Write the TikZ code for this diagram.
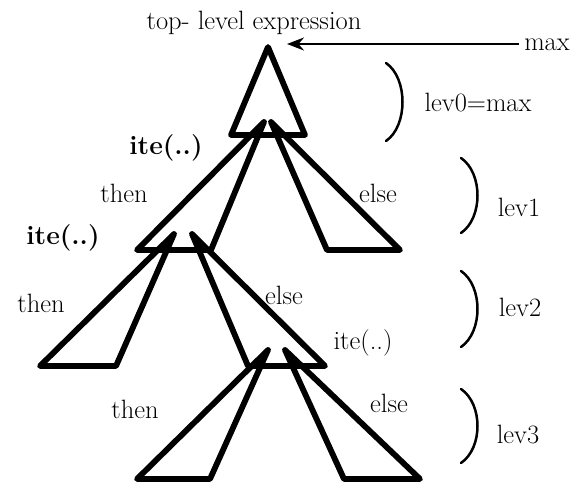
\documentclass[tikz,border=0pt]{standalone}
\usepackage{fontspec}
\usetikzlibrary{arrows.meta}
\begin{document}
\begin{tikzpicture}[x=1pt,y=-1pt,
  tri/.style={line width=5.8pt,line join=round},
  lbl/.style={font=\fontsize{26.5}{30}\selectfont,inner sep=0pt,anchor=base},
  bld/.style={font=\fontsize{26.5}{30}\selectfont\bfseries,inner sep=0pt,anchor=base},
  brk/.style={line width=2.5pt,line cap=round},
  arr/.style={line width=2.5pt,-{Stealth[length=17pt,width=13pt]}}]
\useasboundingbox (0,0) rectangle (574,484);
% triangle corner points
\coordinate (t0a) at (268,47);  \coordinate (t0l) at (231,135); \coordinate (t0r) at (305,135);
\coordinate (t1a) at (264,122); \coordinate (t1l) at (137,250); \coordinate (t1r) at (211,250);
\coordinate (e1a) at (271,122); \coordinate (e1l) at (327,250); \coordinate (e1r) at (400,250);
\coordinate (t2a) at (174,234); \coordinate (t2l) at (40,366);  \coordinate (t2r) at (116,366);
\coordinate (e2a) at (192,234); \coordinate (e2l) at (248,366); \coordinate (e2r) at (325,366);
\coordinate (t3a) at (268,350); \coordinate (t3l) at (137,479); \coordinate (t3r) at (210,479);
\coordinate (e3a) at (285,350); \coordinate (e3l) at (344,479); \coordinate (e3r) at (420,479);
\foreach \n in {t0,t1,e1,t2,e2,t3,e3}{\draw[tri] (\n a) -- (\n l) -- (\n r) -- cycle;}
% texts
\node[lbl] (top) at (254,30) {top- level expression};
\node[lbl] (max) at (547,51) {max};
\coordinate (tip) at (287,44);
\coordinate (astart) at (519,44);
\draw[arr] (astart) -- (tip);
\node[lbl] (l0) at (478,112) {lev0=max};
\node[lbl] (l1) at (519,217) {lev1};
\node[lbl] (l2) at (520,317) {lev2};
\node[lbl] (l3) at (518,443) {lev3};
\node[bld] (i1) at (166,155) {ite(..)};
\node[bld] (i2) at (63,245) {ite(..)};
\node[lbl] (i3) at (363,350) {ite(..)};
\node[lbl] (th1) at (124,203) {then};
\node[lbl] (el1) at (378,203) {else};
\node[lbl] (th2) at (41,313) {then};
\node[lbl] (el2) at (284,305) {else};
\node[lbl] (th3) at (135,418) {then};
\node[lbl] (el3) at (389,413) {else};
% brackets
\coordinate (b0t) at (386,63);  \coordinate (b0b) at (386,141);
\coordinate (b1t) at (461,158); \coordinate (b1b) at (461,233);
\coordinate (b2t) at (461,271); \coordinate (b2b) at (461,347);
\coordinate (b3t) at (461,389); \coordinate (b3b) at (461,463);
\draw[brk] (b0t) .. controls ++(22,15) and ++(22,-15) .. (b0b);
\draw[brk] (b1t) .. controls ++(22,15) and ++(22,-15) .. (b1b);
\draw[brk] (b2t) .. controls ++(22,15) and ++(22,-15) .. (b2b);
\draw[brk] (b3t) .. controls ++(22,15) and ++(22,-15) .. (b3b);
\end{tikzpicture}
\end{document}
